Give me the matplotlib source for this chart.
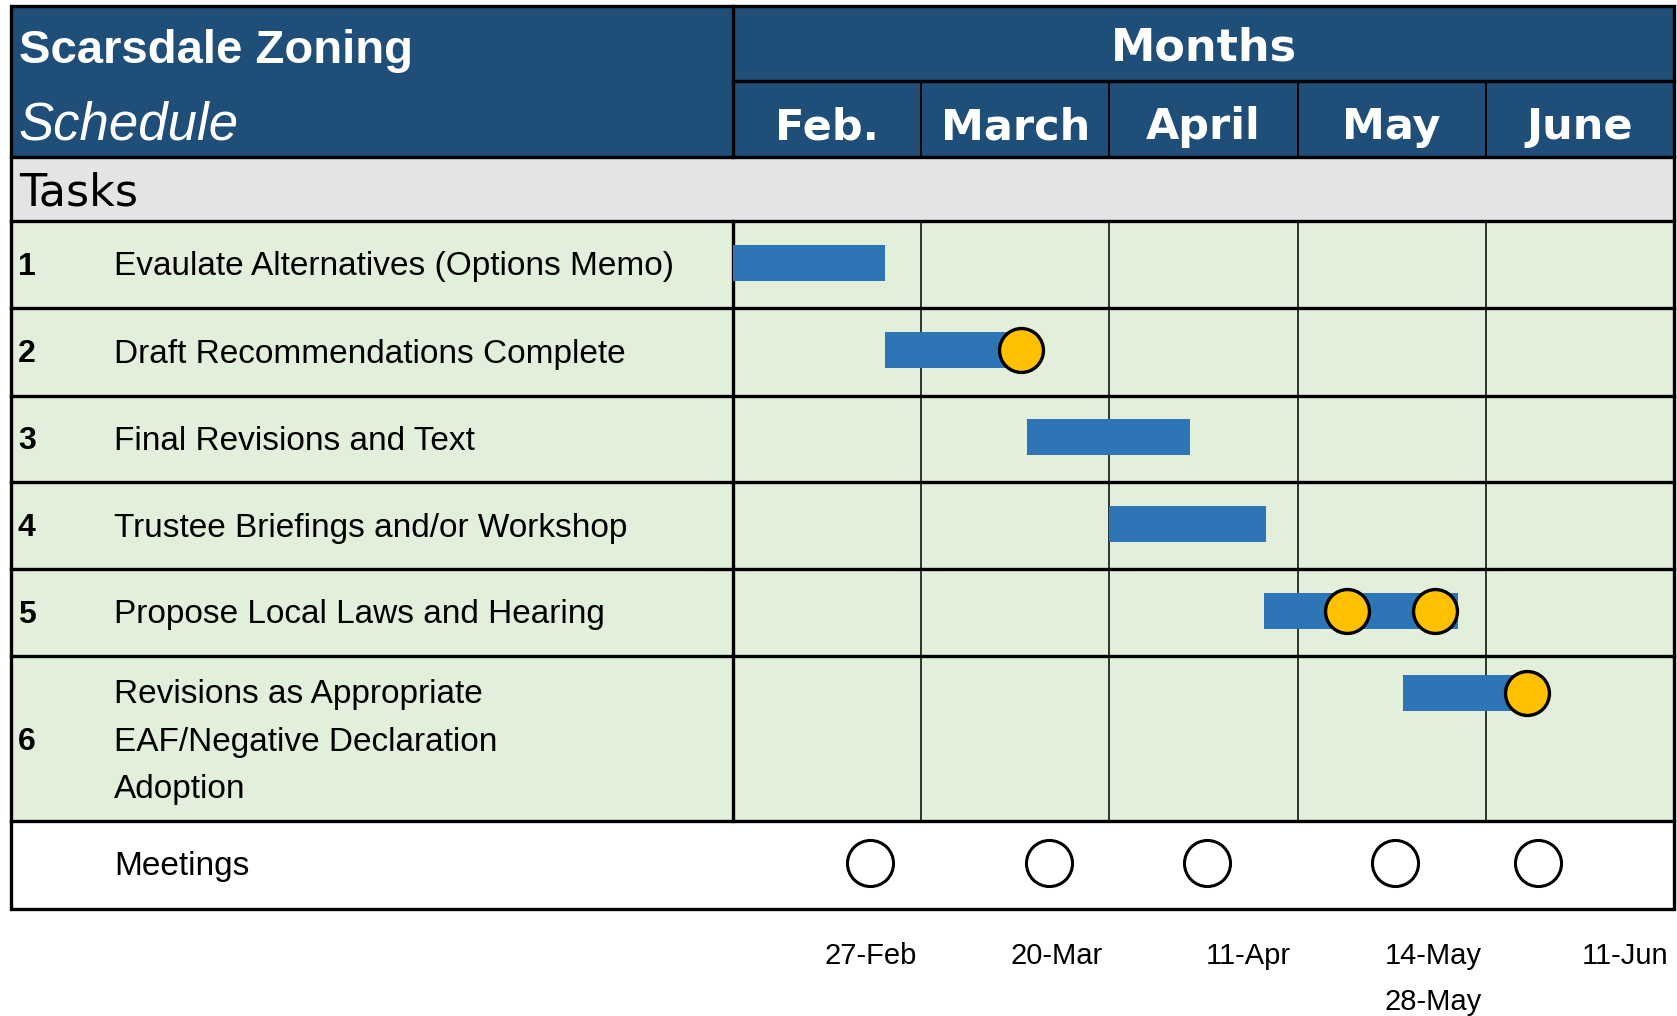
import numpy as np
import matplotlib
matplotlib.use('Agg')
import matplotlib.pyplot as plt
from matplotlib.patches import Rectangle

# ---- data ----
months = ['Feb.', 'March', 'April', 'May', 'June']
task_nums = ['1', '2', '3', '4', '5', '6']
task_labels = ['Evaulate Alternatives (Options Memo)',
               'Draft Recommendations Complete',
               'Final Revisions and Text',
               'Trustee Briefings and/or Workshop',
               'Propose Local Laws and Hearing',
               'Revisions as Appropriate\nEAF/Negative Declaration\nAdoption']
# positions in month units counted from start of Feb (each month column equal width)
bar_start = [0.0, 0.81, 1.56, 2.0, 2.82, 3.56]
bar_end = [0.81, 1.53, 2.43, 2.83, 3.85, 4.22]
milestone_task = [2, 5, 5, 6]
milestone_pos = [1.53, 3.26, 3.73, 4.22]
meeting_pos = [0.73, 1.68, 2.52, 3.52, 4.28]
date_labels = ['27-Feb', '20-Mar', '11-Apr', '14-May\n28-May', '11-Jun']
date_label_pos = [0.73, 1.72, 2.74, 3.72, 4.74]

# ---- layout (pixels) ----
W, H = 1677, 1016
L, R, T = 11, 1674, 6
y_mid, y_head, y_tasks = 81, 157, 221
row_edges = [221, 308, 396, 482, 569, 656, 821]
y_bottom = 909
xdiv = 733
bar_y = [262.5, 350, 437, 524, 611, 693]
text_y = [267, 354, 441, 528, 615, 742]

navy = '#1F4E79'
sans = ['Liberation Sans', 'DejaVu Sans']

fig = plt.figure(figsize=(W / 100, H / 100), dpi=100)
ax = fig.add_axes([0, 0, 1, 1])
ax.set_xlim(0, W)
ax.set_ylim(H, 0)
ax.axis('off')

# backgrounds
ax.add_patch(Rectangle((L, T), R - L, y_head - T, fc=navy, ec='none'))
ax.add_patch(Rectangle((L, y_head), R - L, y_tasks - y_head, fc='#E4E4E4', ec='none'))
ax.add_patch(Rectangle((L, y_tasks), R - L, row_edges[-1] - y_tasks, fc='#E2EFDA', ec='none'))
ax.add_patch(Rectangle((L, row_edges[-1]), R - L, y_bottom - row_edges[-1], fc='white', ec='none'))

# grid lines
mw = (R - xdiv) / 5.0
for i in range(1, 5):
    x = xdiv + i * mw
    ax.plot([x, x], [y_mid, y_head], color='black', lw=1.4)
    ax.plot([x, x], [y_tasks, row_edges[-1]], color='black', lw=1.1)
for y in [y_head, y_tasks] + row_edges[1:]:
    ax.plot([L, R], [y, y], color='black', lw=2.4)
ax.plot([xdiv, R], [y_mid, y_mid], color='black', lw=2.4)
ax.plot([xdiv, xdiv], [T, y_head], color='black', lw=2.4)
ax.plot([xdiv, xdiv], [y_tasks, row_edges[-1]], color='black', lw=2.4)
ax.add_patch(Rectangle((L, T), R - L, y_bottom - T, fc='none', ec='black', lw=2.4))

# header text
ax.text(19, 51, 'Scarsdale Zoning', color='white', fontsize=34, fontweight='bold',
        family=sans, va='center', ha='left')
ax.text(19, 126, 'Schedule', color='white', fontsize=38, style='italic',
        family=sans, va='center', ha='left')
ax.text((xdiv + R) / 2, 48, 'Months', color='white', fontsize=32, fontweight='bold',
        va='center', ha='center')
for i, m in enumerate(months):
    ax.text(xdiv + (i + 0.5) * mw, 127, m, color='white', fontsize=31, fontweight='bold',
            va='center', ha='center')
ax.text(19, 193, 'Tasks', fontsize=32, va='center', ha='left')

for n, lab, y in zip(task_nums, task_labels, text_y):
    ax.text(18, y, n, fontsize=23, fontweight='bold', family=sans, va='center', ha='left')
    ax.text(114, y, lab, fontsize=24, family=sans, va='center', ha='left', linespacing=1.68)
ax.text(114, 866, 'Meetings', fontsize=24, family=sans, va='center', ha='left')

# gantt marks in month units
ax2 = fig.add_axes([xdiv / W, 1 - y_bottom / H, (R - xdiv) / W, (y_bottom - y_tasks) / H])
ax2.set_xlim(0, 5)
ax2.set_ylim(y_bottom, y_tasks)
ax2.axis('off')
ax2.patch.set_alpha(0)

widths = np.array(bar_end) - np.array(bar_start)
ax2.barh(bar_y, widths, left=bar_start, height=36, color='#2E75B6', zorder=2)
ms_y = [bar_y[t - 1] for t in milestone_task]
ax2.scatter(milestone_pos, ms_y, s=1000, c='#FFC000', edgecolors='black',
            linewidths=2.4, zorder=3, clip_on=False)
ax2.scatter(meeting_pos, [863] * len(meeting_pos), s=1100, c='white', edgecolors='black',
            linewidths=2.2, zorder=3, clip_on=False)
for p, lab in zip(date_label_pos, date_labels):
    ax2.text(p, 942, lab, fontsize=21, family=sans, va='top', ha='center',
             linespacing=1.8, clip_on=False)

fig.savefig('out.png', dpi=100)
